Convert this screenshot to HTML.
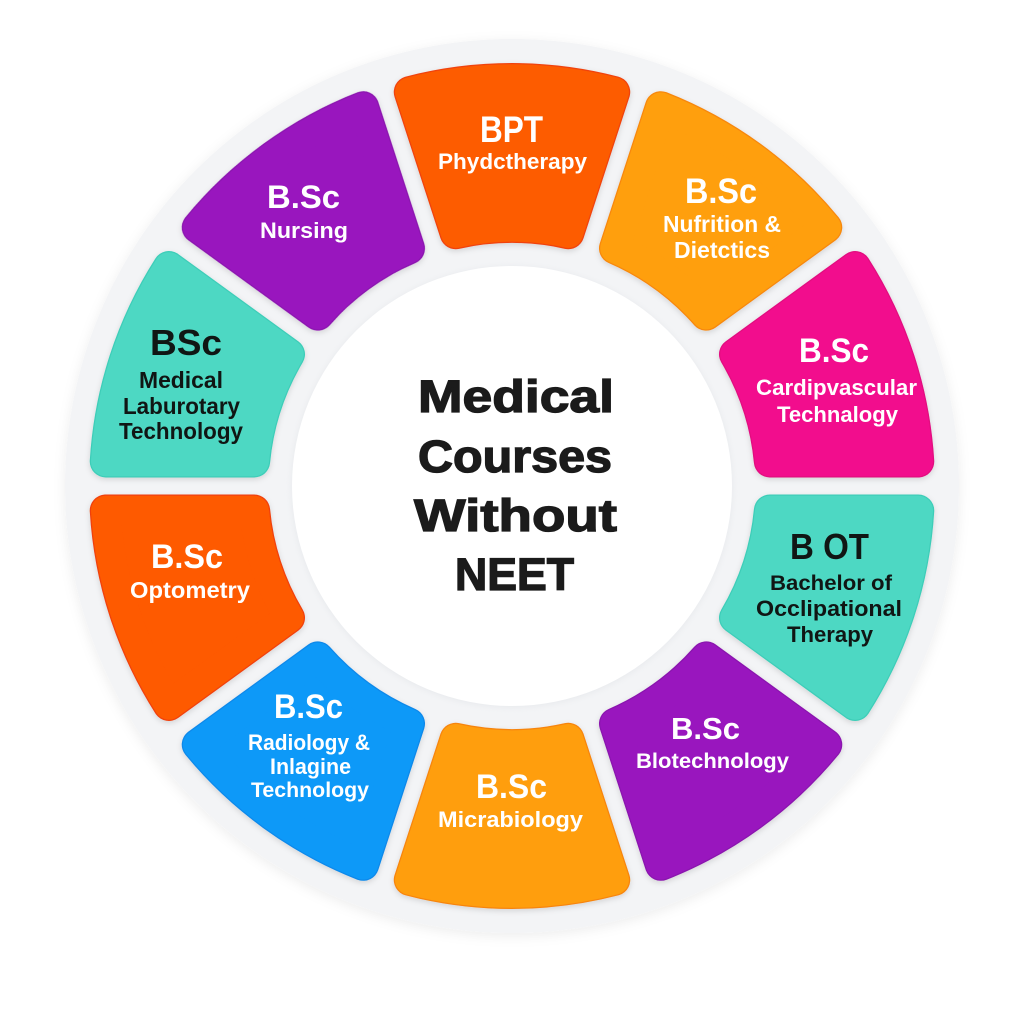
<!DOCTYPE html>
<html>
<head>
<meta charset="utf-8">
<style>
  html,body{margin:0;padding:0;background:#ffffff;}
  svg{display:block;}
  text{font-family:"Liberation Sans", Arial, sans-serif;font-weight:700;text-anchor:middle;}
  .w{fill:#ffffff;}
  .d{fill:#101614;}
</style>
</head>
<body>
<svg width="1024" height="1024" viewBox="0 0 1024 1024" xmlns="http://www.w3.org/2000/svg">
  <defs>
    <filter id="ringsh" x="-10%" y="-10%" width="120%" height="120%">
      <feDropShadow dx="0" dy="3" stdDeviation="6" flood-color="#000" flood-opacity="0.07"/>
    </filter>
    <filter id="sh" x="-20%" y="-20%" width="140%" height="140%">
      <feDropShadow dx="0" dy="2" stdDeviation="3" flood-color="#000" flood-opacity="0.13"/>
    </filter>
    <filter id="innersh" x="-10%" y="-10%" width="120%" height="120%">
      <feGaussianBlur stdDeviation="3"/>
    </filter>
  </defs>

  <!-- outer gray ring -->
  <circle cx="512" cy="486" r="447" fill="#F3F4F6" filter="url(#ringsh)"/>
  <!-- inner white circle -->
  <circle cx="512" cy="487" r="221" fill="#E9EBEE" filter="url(#innersh)"/>
  <circle cx="512" cy="486" r="220" fill="#ffffff"/>

  <!-- segments -->
  <g filter="url(#sh)">
    <g transform="translate(512 486) rotate(0)">
      <path d="M -102.24,-393.95 A 407 407 0 0 1 102.24,-393.95 L 56.38,-252.79 A 259 259 0 0 0 -56.38,-252.79 Z" fill="#FD5C03" stroke="#F0420C" stroke-width="32" stroke-linejoin="round"/>
      <path d="M -102.24,-393.95 A 407 407 0 0 1 102.24,-393.95 L 56.38,-252.79 A 259 259 0 0 0 -56.38,-252.79 Z" fill="#FD5C03" stroke="#FD5C03" stroke-width="29.5" stroke-linejoin="round"/>
    </g>
    <g transform="translate(512 486) rotate(36)">
      <path d="M -102.24,-393.95 A 407 407 0 0 1 102.24,-393.95 L 56.38,-252.79 A 259 259 0 0 0 -56.38,-252.79 Z" fill="#FF9F0B" stroke="#F7870A" stroke-width="32" stroke-linejoin="round"/>
      <path d="M -102.24,-393.95 A 407 407 0 0 1 102.24,-393.95 L 56.38,-252.79 A 259 259 0 0 0 -56.38,-252.79 Z" fill="#FF9F0B" stroke="#FF9F0B" stroke-width="29.5" stroke-linejoin="round"/>
    </g>
    <g transform="translate(512 486) rotate(72)">
      <path d="M -102.24,-393.95 A 407 407 0 0 1 102.24,-393.95 L 56.38,-252.79 A 259 259 0 0 0 -56.38,-252.79 Z" fill="#F20A8D" stroke="#E2087F" stroke-width="32" stroke-linejoin="round"/>
      <path d="M -102.24,-393.95 A 407 407 0 0 1 102.24,-393.95 L 56.38,-252.79 A 259 259 0 0 0 -56.38,-252.79 Z" fill="#F20A8D" stroke="#F20A8D" stroke-width="29.5" stroke-linejoin="round"/>
    </g>
    <g transform="translate(512 486) rotate(108)">
      <path d="M -102.24,-393.95 A 407 407 0 0 1 102.24,-393.95 L 56.38,-252.79 A 259 259 0 0 0 -56.38,-252.79 Z" fill="#4ED8C3" stroke="#3ECDB8" stroke-width="32" stroke-linejoin="round"/>
      <path d="M -102.24,-393.95 A 407 407 0 0 1 102.24,-393.95 L 56.38,-252.79 A 259 259 0 0 0 -56.38,-252.79 Z" fill="#4ED8C3" stroke="#4ED8C3" stroke-width="29.5" stroke-linejoin="round"/>
    </g>
    <g transform="translate(512 486) rotate(144)">
      <path d="M -102.24,-393.95 A 407 407 0 0 1 102.24,-393.95 L 56.38,-252.79 A 259 259 0 0 0 -56.38,-252.79 Z" fill="#9917BE" stroke="#8A12AE" stroke-width="32" stroke-linejoin="round"/>
      <path d="M -102.24,-393.95 A 407 407 0 0 1 102.24,-393.95 L 56.38,-252.79 A 259 259 0 0 0 -56.38,-252.79 Z" fill="#9917BE" stroke="#9917BE" stroke-width="29.5" stroke-linejoin="round"/>
    </g>
    <g transform="translate(512 486) rotate(180)">
      <path d="M -102.24,-393.95 A 407 407 0 0 1 102.24,-393.95 L 56.38,-252.79 A 259 259 0 0 0 -56.38,-252.79 Z" fill="#FF9E0A" stroke="#F7840A" stroke-width="32" stroke-linejoin="round"/>
      <path d="M -102.24,-393.95 A 407 407 0 0 1 102.24,-393.95 L 56.38,-252.79 A 259 259 0 0 0 -56.38,-252.79 Z" fill="#FF9E0A" stroke="#FF9E0A" stroke-width="29.5" stroke-linejoin="round"/>
    </g>
    <g transform="translate(512 486) rotate(216)">
      <path d="M -102.24,-393.95 A 407 407 0 0 1 102.24,-393.95 L 56.38,-252.79 A 259 259 0 0 0 -56.38,-252.79 Z" fill="#0E99F8" stroke="#0A88EA" stroke-width="32" stroke-linejoin="round"/>
      <path d="M -102.24,-393.95 A 407 407 0 0 1 102.24,-393.95 L 56.38,-252.79 A 259 259 0 0 0 -56.38,-252.79 Z" fill="#0E99F8" stroke="#0E99F8" stroke-width="29.5" stroke-linejoin="round"/>
    </g>
    <g transform="translate(512 486) rotate(252)">
      <path d="M -102.24,-393.95 A 407 407 0 0 1 102.24,-393.95 L 56.38,-252.79 A 259 259 0 0 0 -56.38,-252.79 Z" fill="#FE5A02" stroke="#F0400C" stroke-width="32" stroke-linejoin="round"/>
      <path d="M -102.24,-393.95 A 407 407 0 0 1 102.24,-393.95 L 56.38,-252.79 A 259 259 0 0 0 -56.38,-252.79 Z" fill="#FE5A02" stroke="#FE5A02" stroke-width="29.5" stroke-linejoin="round"/>
    </g>
    <g transform="translate(512 486) rotate(288)">
      <path d="M -102.24,-393.95 A 407 407 0 0 1 102.24,-393.95 L 56.38,-252.79 A 259 259 0 0 0 -56.38,-252.79 Z" fill="#4ED8C3" stroke="#3ECDB8" stroke-width="32" stroke-linejoin="round"/>
      <path d="M -102.24,-393.95 A 407 407 0 0 1 102.24,-393.95 L 56.38,-252.79 A 259 259 0 0 0 -56.38,-252.79 Z" fill="#4ED8C3" stroke="#4ED8C3" stroke-width="29.5" stroke-linejoin="round"/>
    </g>
    <g transform="translate(512 486) rotate(324)">
      <path d="M -102.24,-393.95 A 407 407 0 0 1 102.24,-393.95 L 56.38,-252.79 A 259 259 0 0 0 -56.38,-252.79 Z" fill="#9917BE" stroke="#8A12AE" stroke-width="32" stroke-linejoin="round"/>
      <path d="M -102.24,-393.95 A 407 407 0 0 1 102.24,-393.95 L 56.38,-252.79 A 259 259 0 0 0 -56.38,-252.79 Z" fill="#9917BE" stroke="#9917BE" stroke-width="29.5" stroke-linejoin="round"/>
    </g>
  </g>

  <!-- center title -->
  <g fill="#1B1B1B" stroke="#1B1B1B" stroke-width="1.3">
    <text x="516" y="412" font-size="45" textLength="196" lengthAdjust="spacingAndGlyphs">Medical</text>
    <text x="515" y="472" font-size="45" textLength="194" lengthAdjust="spacingAndGlyphs">Courses</text>
    <text x="515.5" y="531" font-size="45" textLength="203" lengthAdjust="spacingAndGlyphs">Without</text>
    <text x="514.5" y="590" font-size="45" textLength="119" lengthAdjust="spacingAndGlyphs">NEET</text>
  </g>

  <!-- BPT -->
  <text class="w" x="511.5" y="142" font-size="37" textLength="63" lengthAdjust="spacingAndGlyphs">BPT</text>
  <text class="w" x="512.5" y="169" font-size="22" textLength="149" lengthAdjust="spacingAndGlyphs">Phydctherapy</text>

  <!-- Nutrition -->
  <text class="w" x="721" y="203" font-size="35" textLength="72" lengthAdjust="spacingAndGlyphs">B.Sc</text>
  <text class="w" x="722" y="232" font-size="23" textLength="118" lengthAdjust="spacingAndGlyphs">Nufrition &amp;</text>
  <text class="w" x="722" y="258" font-size="23" textLength="96" lengthAdjust="spacingAndGlyphs">Dietctics</text>

  <!-- Cardio -->
  <text class="w" x="834" y="362" font-size="34" textLength="70" lengthAdjust="spacingAndGlyphs">B.Sc</text>
  <text class="w" x="836.5" y="395" font-size="22" textLength="161" lengthAdjust="spacingAndGlyphs">Cardipvascular</text>
  <text class="w" x="837.5" y="422" font-size="22" textLength="121" lengthAdjust="spacingAndGlyphs">Technalogy</text>

  <!-- BOT -->
  <text class="d" x="829.5" y="559" font-size="36" textLength="79" lengthAdjust="spacingAndGlyphs">B OT</text>
  <text class="d" x="831" y="590" font-size="21" textLength="122" lengthAdjust="spacingAndGlyphs">Bachelor of</text>
  <text class="d" x="829" y="616" font-size="22" textLength="146" lengthAdjust="spacingAndGlyphs">Occlipational</text>
  <text class="d" x="830" y="642" font-size="22" textLength="86" lengthAdjust="spacingAndGlyphs">Therapy</text>

  <!-- Biotechnology -->
  <text class="w" x="705.5" y="739" font-size="31" textLength="69" lengthAdjust="spacingAndGlyphs">B.Sc</text>
  <text class="w" x="712.5" y="768" font-size="21" textLength="153" lengthAdjust="spacingAndGlyphs">Blotechnology</text>

  <!-- Microbiology -->
  <text class="w" x="511.5" y="798" font-size="34" textLength="71" lengthAdjust="spacingAndGlyphs">B.Sc</text>
  <text class="w" x="510.5" y="827" font-size="22" textLength="145" lengthAdjust="spacingAndGlyphs">Micrabiology</text>

  <!-- Radiology -->
  <text class="w" x="308.5" y="718" font-size="34" textLength="69" lengthAdjust="spacingAndGlyphs">B.Sc</text>
  <text class="w" x="309" y="750" font-size="22" textLength="122" lengthAdjust="spacingAndGlyphs">Radiology &amp;</text>
  <text class="w" x="310.5" y="774" font-size="22" textLength="81" lengthAdjust="spacingAndGlyphs">Inlagine</text>
  <text class="w" x="310" y="797" font-size="21" textLength="118" lengthAdjust="spacingAndGlyphs">Technology</text>

  <!-- Optometry -->
  <text class="w" x="187" y="568" font-size="34" textLength="72" lengthAdjust="spacingAndGlyphs">B.Sc</text>
  <text class="w" x="190" y="598" font-size="23" textLength="120" lengthAdjust="spacingAndGlyphs">Optometry</text>

  <!-- Medical Lab -->
  <text class="d" x="186" y="355" font-size="36" textLength="72" lengthAdjust="spacingAndGlyphs">BSc</text>
  <text class="d" x="181" y="388" font-size="23" textLength="84" lengthAdjust="spacingAndGlyphs">Medical</text>
  <text class="d" x="181.5" y="414" font-size="23" textLength="117" lengthAdjust="spacingAndGlyphs">Laburotary</text>
  <text class="d" x="181" y="439" font-size="23" textLength="124" lengthAdjust="spacingAndGlyphs">Technology</text>

  <!-- Nursing -->
  <text class="w" x="303.5" y="208" font-size="32" textLength="73" lengthAdjust="spacingAndGlyphs">B.Sc</text>
  <text class="w" x="304" y="238" font-size="22" textLength="88" lengthAdjust="spacingAndGlyphs">Nursing</text>
</svg>
</body>
</html>
